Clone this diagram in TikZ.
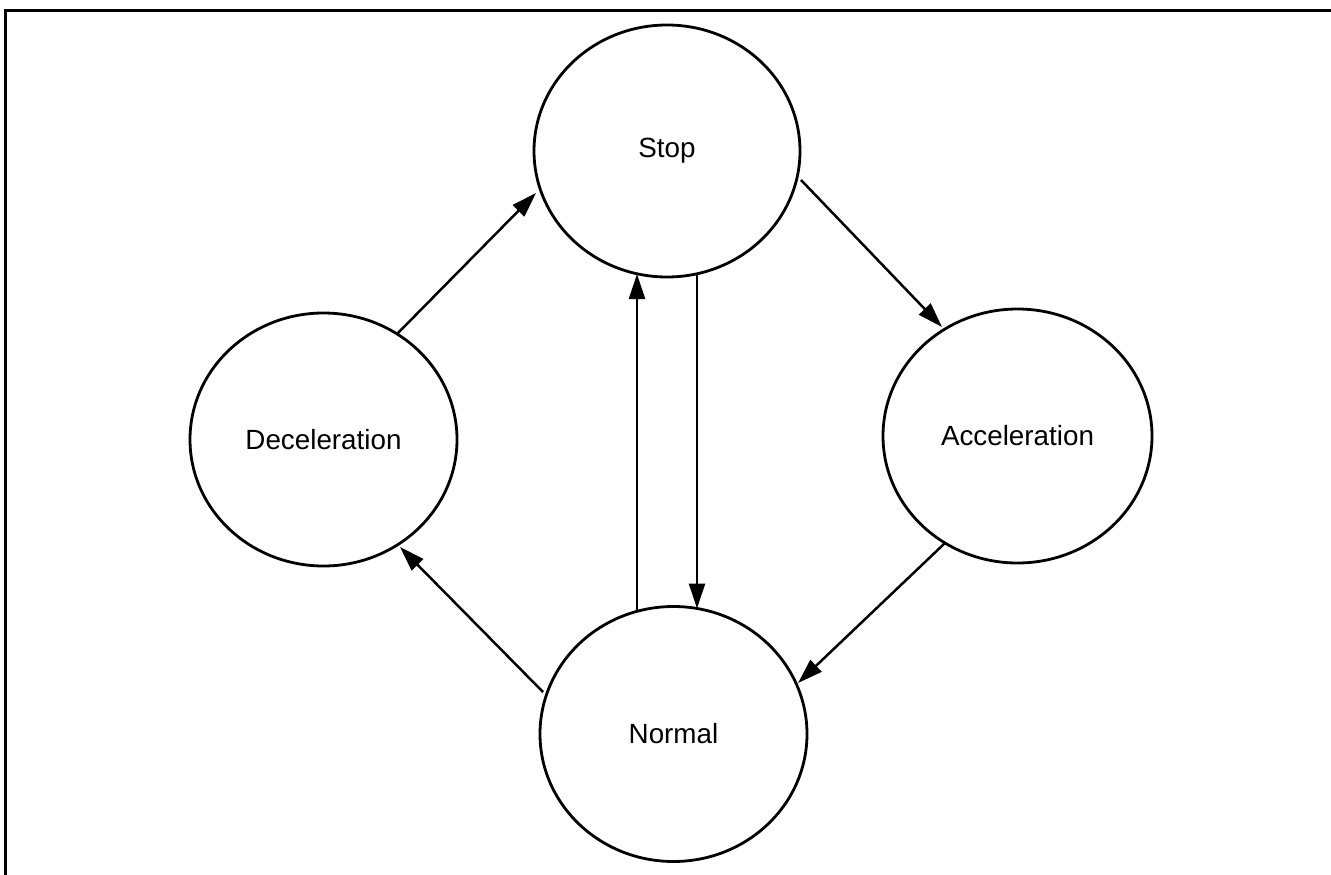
\documentclass[tikz,border=0pt]{standalone}
\usepackage{fontspec}
\setmainfont{Liberation Sans}
\usetikzlibrary{shapes.geometric,arrows.meta,calc}
\begin{document}
\begin{tikzpicture}[x=1pt,y=-1pt,
  state/.style={ellipse,draw,line width=2.8pt,inner sep=0pt,
    font=\fontsize{27.8}{33}\selectfont},
  arr/.style={line width=2.5pt,-{Triangle[length=25pt,width=16pt]}},
  frame/.style={line width=2.8pt}]
\useasboundingbox (0,0) rectangle (1331,875);
\draw[frame] (1331,10.5) -- (5.5,10.5) -- (5.5,875);
\node[state,minimum width=266pt,minimum height=252pt] (stop) at (667,151) {Stop};
\node[state,minimum width=267pt,minimum height=253pt] (decel) at (323.5,439.5) {Deceleration};
\node[state,minimum width=269pt,minimum height=254pt] (accel) at (1017.5,436) {Acceleration};
\node[state,minimum width=267pt,minimum height=255pt] (normal) at (673.5,734) {Normal};
\draw[arr] ($(stop)+(134,29)$) -- ($(accel)+(-75.5,-109)$);
\draw[arr] ($(decel)+(74.5,-106.5)$) -- ($(stop)+(-131,42)$);
\draw[arr] ($(normal)+(-130.5,-42)$) -- ($(decel)+(76.5,107.5)$);
\draw[arr] ($(accel)+(-72.5,107)$) -- ($(normal)+(124.5,-51)$);
\draw[arr] ($(normal)+(-36.5,-124)$) -- ($(stop)+(-30,123)$);
\draw[arr] ($(stop)+(30,124)$) -- ($(normal)+(23.5,-125.5)$);
\end{tikzpicture}
\end{document}
